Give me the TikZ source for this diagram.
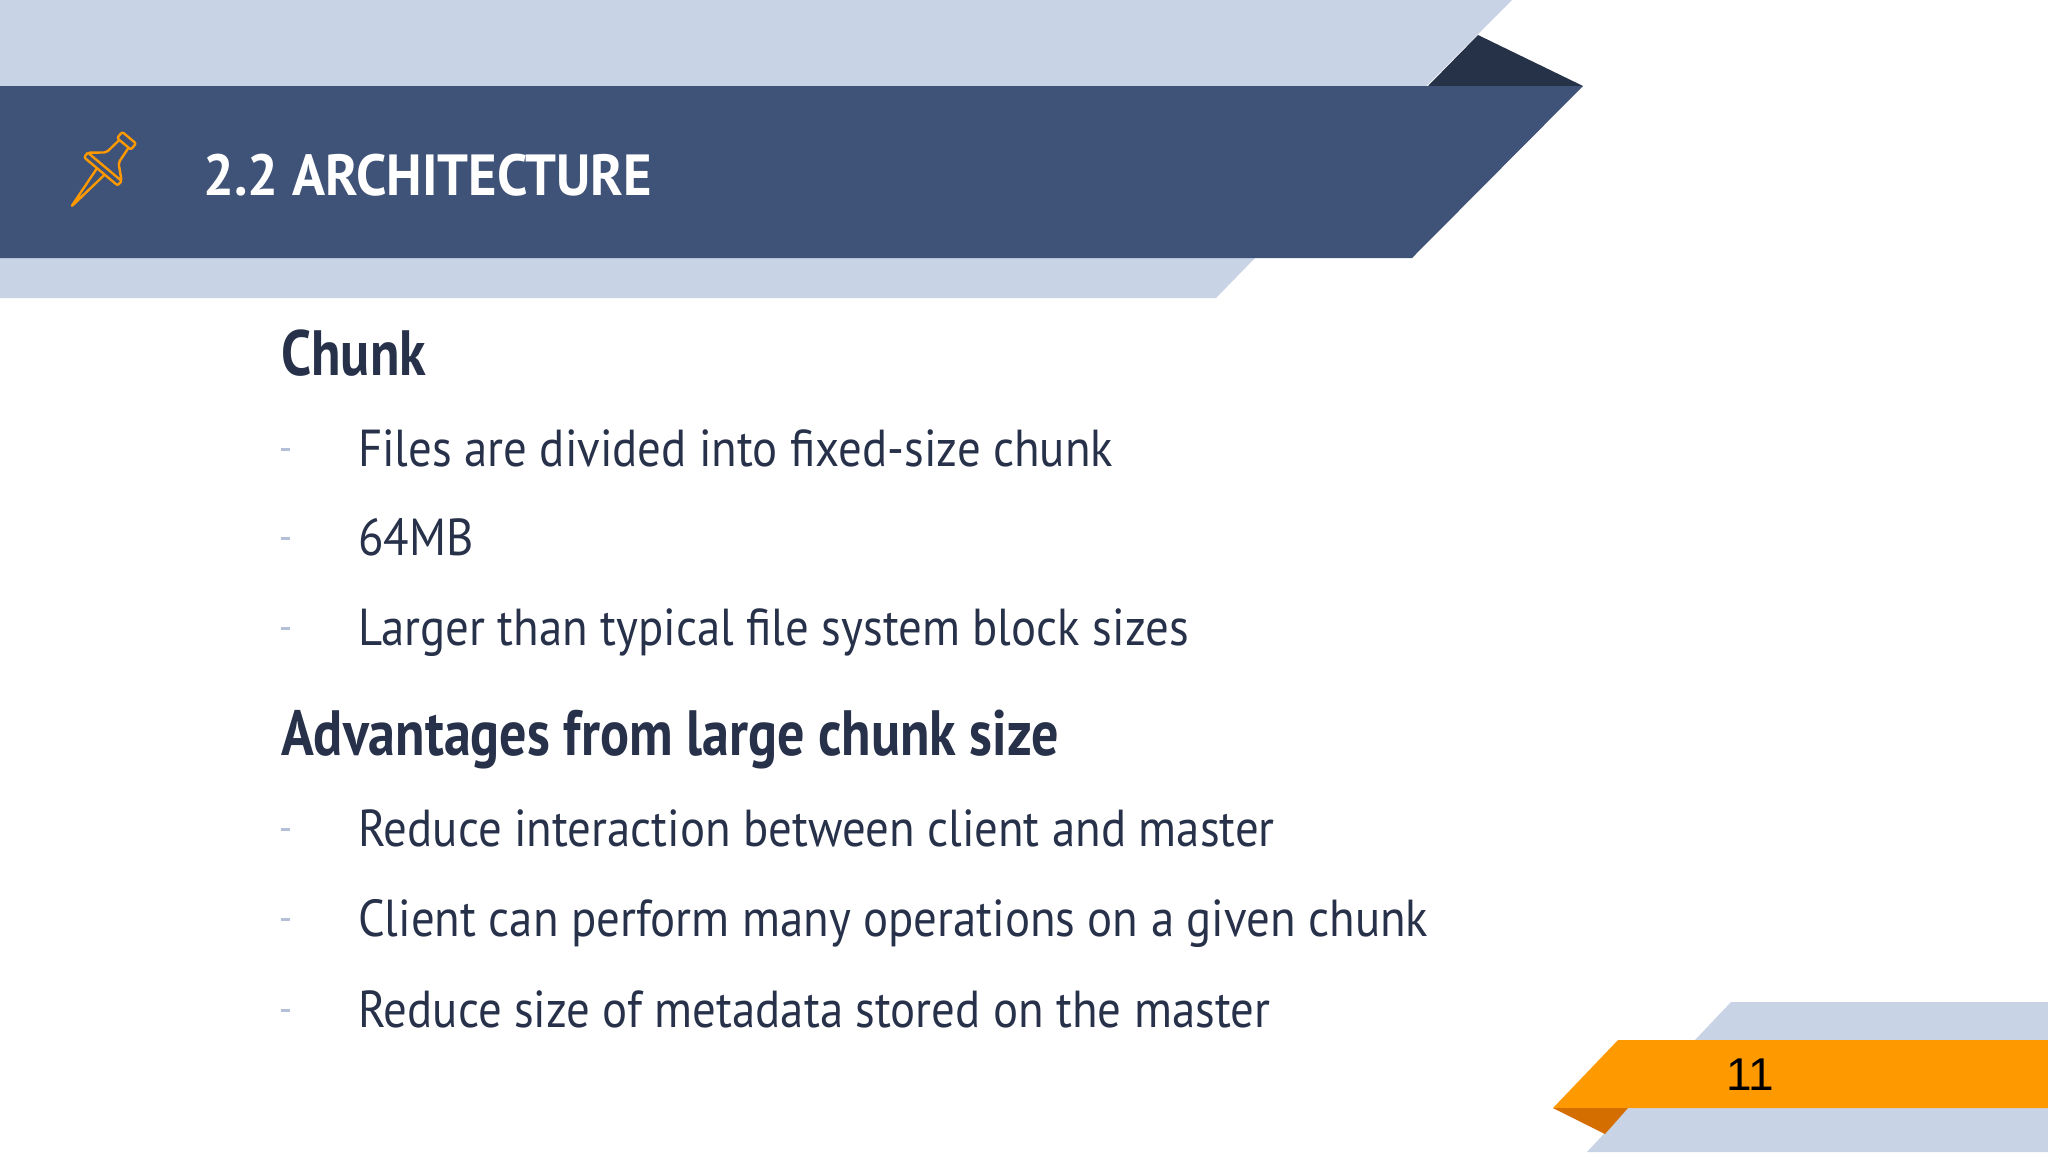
\documentclass[tikz,border=0pt]{standalone}
\usepackage{fontspec}
\setmainfont{PT Sans}[FakeStretch=0.9]
\newfontfamily\headfont{PT Sans}[FakeStretch=0.845]
\newfontfamily\titlefont{PT Sans}[FakeStretch=0.94]
\newfontfamily\numfont{Liberation Sans}
\definecolor{lightb}{HTML}{C8D3E6}
\definecolor{darkb}{HTML}{3F5277}
\definecolor{darkt}{HTML}{263248}
\definecolor{orng}{HTML}{FF9900}
\definecolor{dorng}{HTML}{D46E00}
\definecolor{txt}{HTML}{27314A}
\definecolor{dsh}{HTML}{B4C0D8}
\begin{document}
\begin{tikzpicture}[x=1pt,y=-1pt,
  body/.style={anchor=base west,text=txt,inner sep=0,font=\fontsize{52}{60}\selectfont},
  head/.style={anchor=base west,text=txt,inner sep=0,font=\fontsize{64}{72}\headfont\bfseries},
  dashmark/.style={fill=dsh,draw=none}]
\useasboundingbox (0,0) rectangle (2048,1152);
\fill[white] (0,0) rectangle (2048,1152);
% header
\fill[lightb] (0,0) -- (1512,0) -- (1255,258) -- (0,258) -- cycle;
\fill[darkt] (1478,35) -- (1583,86) -- (1428,86) -- cycle;
\fill[lightb] (0,258) -- (1255,258) -- (1216,298) -- (0,298) -- cycle;
\fill[darkb] (0,86) -- (1583,86) -- (1412,258) -- (0,258) -- cycle;
% pin icon
\begin{scope}[shift={(97,176)},rotate=-40,draw=orng,line width=2.4pt,line join=round,rounded corners=2pt]
  \draw (-9,-50) rectangle (9,-42);
  \draw (-6,-42) -- (-8,-24) -- (-22,-12) -- (22,-12) -- (8,-24) -- (6,-42);
  \draw (-22,-12) -- (-22,-6) -- (22,-6) -- (22,-12);
  \draw (-5,-6) -- (0,40) -- (5,-6);
\end{scope}
\node[anchor=base west,inner sep=0,text=white,font=\fontsize{58}{64}\titlefont\bfseries] (title) at (203,195) {2.2 ARCHITECTURE};
% body
\node[head] (h1) at (281,375) {Chunk};
\node[body] (b1) at (358,466) {Files are divided into fixed-size chunk};
\node[body] (b2) at (358,555) {64MB};
\node[body] (b3) at (358,645) {Larger than typical file system block sizes};
\node[head] (h2) at (281,755) {Advantages from large chunk size};
\node[body] (b4) at (358,846) {Reduce interaction between client and master};
\node[body] (b5) at (358,936) {Client can perform many operations on a given chunk};
\node[body] (b6) at (358,1027) {Reduce size of metadata stored on the master};
\foreach \y in {466,555,645,846,936,1027}
  \fill[dsh] (281,\y-18) rectangle (290,\y-15);
% footer
\fill[lightb] (1731,1002) -- (2048,1002) -- (2048,1040) -- (1695,1040) -- cycle;
\fill[lightb] (1628,1108) -- (2048,1108) -- (2048,1152) -- (1587,1152) -- cycle;
\fill[orng] (1618,1040) -- (2048,1040) -- (2048,1108) -- (1553,1108) -- cycle;
\fill[dorng] (1553,1108) -- (1628,1108) -- (1605,1134) -- cycle;
\node[inner sep=0,font=\fontsize{46}{52}\selectfont\numfont] (pg) at (1750,1075) {11};
\end{tikzpicture}
\end{document}
